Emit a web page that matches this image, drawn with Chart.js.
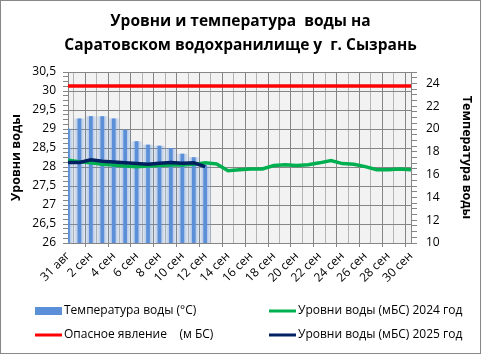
<!DOCTYPE html>
<html>
<head>
<meta charset="utf-8">
<script src="https://cdn.jsdelivr.net/npm/chart.js@4"></script>
<style>
  html, body { margin: 0; padding: 0; background: #fff; }
  #wrap { width: 481px; height: 354px; position: relative; }
</style>
</head>
<body>
<div id="wrap"><canvas id="chart"></canvas></div>
<script>
const dates = ['31 авг', '1 сен', '2 сен', '3 сен', '4 сен', '5 сен', '6 сен', '7 сен', '8 сен', '9 сен',
  '10 сен', '11 сен', '12 сен', '13 сен', '14 сен', '15 сен', '16 сен', '17 сен', '18 сен', '19 сен',
  '20 сен', '21 сен', '22 сен', '23 сен', '24 сен', '25 сен', '26 сен', '27 сен', '28 сен', '29 сен', '30 сен']

// water temperature, °C (right axis)
const waterTemp = [20.0, 20.9, 21.1, 21.1, 20.9, 19.9, 18.9, 18.6, 18.5, 18.3, 17.8, 17.5, 16.8]

// water levels, m BS (left axis)
const level2024 = [28.18, 28.14, 28.11, 28.07, 28.05, 28.03, 28.01, 28.03, 28.04, 28.05, 28.05, 28.07, 28.11,
  28.08, 27.90, 27.93, 27.95, 27.95, 28.04, 28.06, 28.04, 28.06, 28.11, 28.17, 28.09, 28.07, 28.01,
  27.93, 27.93, 27.95, 27.93]
const level2025 = [28.12, 28.12, 28.19, 28.15, 28.13, 28.11, 28.09, 28.07, 28.10, 28.12, 28.10, 28.11, 28.01]
const dangerLevel = [30.13, 30.13, 30.13, 30.13, 30.13, 30.13, 30.13, 30.13, 30.13, 30.13, 30.13, 30.13,
  30.13, 30.13, 30.13, 30.13, 30.13, 30.13, 30.13, 30.13, 30.13, 30.13, 30.13, 30.13, 30.13, 30.13,
  30.13, 30.13, 30.13, 30.13, 30.13]

const titleLines = ['Уровни и температура  воды на', 'Саратовском водохранилище у  г. Сызрань']
const FONT = "'Open Sans', 'Noto Sans', sans-serif"

const chromePlugin = {
  id: 'chrome',
  // soft glow behind each temperature bar, positioned from the x scale
  afterLayout(chart) {
    const sx = chart.scales.x
    const ds = chart.data.datasets[1]
    ds.backgroundColor = waterTemp.map((v, i) => {
      const x = sx.getPixelForValue(i)
      if (!isFinite(x)) return 'rgba(91,143,216,0.2)'
      const g = chart.ctx.createLinearGradient(x - 6, 0, x + 6, 0)
      g.addColorStop(0, 'rgba(91,143,216,0.03)')
      g.addColorStop(0.5, 'rgba(91,143,216,0.6)')
      g.addColorStop(1, 'rgba(91,143,216,0.03)')
      return g
    })
  },
  beforeDraw(chart) {
    const { ctx, chartArea: a } = chart
    ctx.save()
    ctx.fillStyle = '#f2f2f2'
    ctx.fillRect(a.left, a.top, a.right - a.left, a.bottom - a.top)
    ctx.restore()
  },
  afterDraw(chart) {
    const ctx = chart.ctx
    ctx.save()
    // legend
    const items = [
      { ds: 0, x: 35, y: 311, box: true },
      { ds: 2, x: 269, y: 311 },
      { ds: 4, x: 35, y: 335 },
      { ds: 3, x: 269, y: 335 }
    ]
    ctx.font = '12px ' + FONT
    ctx.textBaseline = 'middle'
    items.forEach(it => {
      const d = chart.data.datasets[it.ds]
      if (it.box) {
        ctx.fillStyle = '#5b8fd8'
        ctx.fillRect(it.x, it.y - 4, 27, 8)
      } else {
        ctx.strokeStyle = d.borderColor
        ctx.lineWidth = 3
        ctx.beginPath()
        ctx.moveTo(it.x, it.y)
        ctx.lineTo(it.x + 27, it.y)
        ctx.stroke()
      }
      ctx.fillStyle = '#000'
      ctx.fillText(d.label, it.x + 29, it.y)
    })
    // outer border
    ctx.strokeStyle = '#878787'
    ctx.lineWidth = 1
    ctx.strokeRect(0.5, 0.5, chart.width - 1, chart.height - 1)
    ctx.restore()
  }
}

new Chart(document.getElementById('chart'), {
  type: 'bar',
  data: {
    labels: dates,
    datasets: [
      {
        label: 'Температура воды (°C)',
        data: waterTemp,
        yAxisID: 'y1',
        backgroundColor: '#5b8fd8',
        barThickness: 3,
        grouped: false,
        order: 5
      },
      {
        label: 'glow',
        data: waterTemp,
        yAxisID: 'y1',
        backgroundColor: 'rgba(91,143,216,0.2)',
        barThickness: 12,
        grouped: false,
        order: 6
      },
      {
        type: 'line',
        label: 'Уровни воды (мБС) 2024 год',
        data: level2024,
        yAxisID: 'y',
        borderColor: '#00b050',
        borderWidth: 3.5,
        pointRadius: 0,
        tension: 0,
        order: 2
      },
      {
        type: 'line',
        label: 'Уровни воды (мБС) 2025 год',
        data: level2025,
        yAxisID: 'y',
        borderColor: '#002060',
        borderWidth: 3.5,
        pointRadius: 0,
        tension: 0,
        order: 1
      },
      {
        type: 'line',
        label: 'Опасное явление    (м БС)',
        data: dangerLevel,
        yAxisID: 'y',
        borderColor: '#ff0000',
        borderWidth: 3.5,
        pointRadius: 0,
        tension: 0,
        order: 3
      }
    ]
  },
  options: {
    responsive: true,
    maintainAspectRatio: false,
    animation: false,
    layout: { padding: 0 },
    plugins: {
      legend: { display: false },
      tooltip: { enabled: false },
      title: {
        display: true,
        text: titleLines,
        color: '#000',
        font: { family: FONT, size: 15.5, weight: 'bold', lineHeight: 1.55 },
        padding: { top: 10, bottom: 14 }
      }
    },
    scales: {
      x: {
        offset: false,
        afterFit: s => { s.height = 111 },
        grid: {
          color: c => (c.index % 2 === 0 ? '#868686' : '#b4b4b4'),
          tickColor: c => (c.index % 2 === 0 ? '#868686' : 'rgba(0,0,0,0)'),
          tickLength: 4
        },
        border: { color: '#868686' },
        ticks: {
          autoSkip: false,
          maxRotation: 45,
          minRotation: 45,
          padding: 2,
          color: '#000',
          font: { family: FONT, size: 12 },
          callback: function (v, i) { return i % 2 === 0 ? this.getLabelForValue(v) : '' }
        }
      },
      y: {
        position: 'left',
        min: 26,
        max: 30.5,
        afterFit: s => { s.width = 68 },
        title: {
          display: true,
          text: 'Уровни воды',
          color: '#000',
          font: { family: FONT, size: 12.5, weight: 'bold' },
          padding: { top: 9, bottom: 0 }
        },
        grid: {
          color: c => (Math.abs(c.tick.value * 2 - Math.round(c.tick.value * 2)) < 1e-6 ? '#868686' : 'rgba(0,0,0,0)'),
          tickColor: '#868686',
          tickLength: 5
        },
        border: { color: '#868686' },
        ticks: {
          stepSize: 0.125,
          autoSkip: false,
          padding: 7,
          color: '#000',
          font: { family: FONT, size: 12 },
          callback: v => (Math.abs(v * 2 - Math.round(v * 2)) < 1e-6 ? String(v).replace('.', ',') : '')
        }
      },
      y1: {
        position: 'right',
        min: 10,
        max: 25,
        afterFit: s => { s.width = 70 },
        title: {
          display: true,
          text: 'Температура воды',
          color: '#000',
          font: { family: FONT, size: 12.5, weight: 'bold' },
          padding: { top: 7, bottom: 0 }
        },
        grid: { drawOnChartArea: false, tickColor: '#868686', tickLength: 6 },
        border: { color: '#868686' },
        ticks: {
          stepSize: 0.5,
          autoSkip: false,
          padding: 9,
          color: '#000',
          font: { family: FONT, size: 12 },
          callback: v => (v % 2 === 0 && v <= 24 ? String(v) : '')
        }
      }
    }
  },
  plugins: [chromePlugin]
})
</script>
</body>
</html>
